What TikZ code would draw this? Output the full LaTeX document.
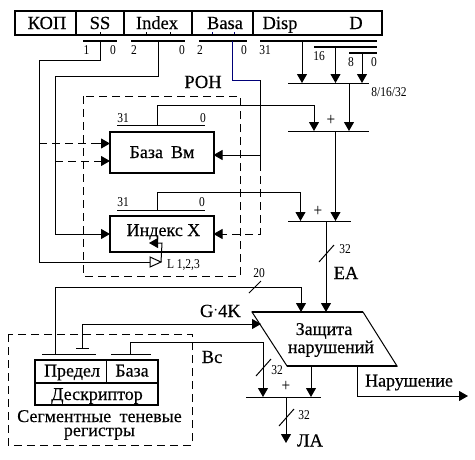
\documentclass[tikz,border=0pt]{standalone}
\usepackage{fontspec}
\setmainfont[FakeBold=0.35]{Liberation Serif}
\newfontfamily\narrowf[FakeStretch=0.85]{Liberation Serif}
\usetikzlibrary{arrows.meta}
\definecolor{navyline}{RGB}{0,0,120}
\tikzset{
  wire/.style={line width=1pt,line cap=butt},
  arr/.style={wire,-{Triangle[length=9pt,width=10pt]}},
  dashwire/.style={wire,dash pattern=on 8pt off 5pt},
  heavy/.style={line width=2pt,line cap=butt},
  thickbar/.style={line width=1.6pt},
  txt/.style={inner sep=0pt,outer sep=0pt,anchor=base,font=\fontsize{18}{18}\selectfont},
  big/.style={inner sep=0pt,outer sep=0pt,anchor=base,font=\fontsize{18.5}{18.5}\selectfont},
  plus/.style={inner sep=0pt,outer sep=0pt,font=\narrowf\fontsize{18}{18}\selectfont},
  small/.style={inner sep=0pt,outer sep=0pt,anchor=base,font=\narrowf\fontsize{13.5}{13.5}\selectfont},
  regbox/.style={draw,line width=2pt,inner sep=0pt,outer sep=0pt,fill=white,anchor=north west,minimum width=104pt},
}
\begin{document}
\begin{tikzpicture}[x=1pt,y=-1pt]
\useasboundingbox (0,0) rectangle (475,459);

% instruction word
\draw[heavy] (15,11) rectangle (382,34.5);
\foreach \xx in {76,124,192,253}{\draw[heavy] (\xx,11) -- (\xx,34.5);}
\node[big] (kop) at (47,29) {КОП};
\node[big] (ss) at (100,29) {SS};
\node[big] (index) at (157,29) {Index};
\node[big] (basa) at (225,29) {Basa};
\node[big] (disp) at (280,29) {Disp};
\node[big] (dd) at (356,29) {D};
\foreach \xx in {100,146,170}{\draw[wire] (\xx,32) -- (\xx,34);}
\foreach \xx in {212,234}{\draw[navyline,wire] (\xx,32) -- (\xx,34);}

% bit bars
\coordinate (ssL) at (83,41); \coordinate (ssR) at (117,41);
\coordinate (ixL) at (131,41); \coordinate (ixR) at (185,41);
\coordinate (baL) at (199,41); \coordinate (baR) at (247,41);
\coordinate (d1L) at (260,41); \coordinate (d1R) at (377,41);
\coordinate (d2L) at (314,47); \coordinate (d2R) at (377,47);
\coordinate (d3L) at (349,53); \coordinate (d3R) at (377,53);
\draw[thickbar] (ssL) -- (ssR);
\draw[thickbar] (ixL) -- (ixR);
\draw[thickbar] (baL) -- (baR);
\draw[thickbar] (d1L) -- (d1R);
\draw[thickbar] (d2L) -- (d2R);
\draw[thickbar] (d3L) -- (d3R);
\node[small] (n1) at (86.5,54) {1};
\node[small] (n2) at (113,54) {0};
\node[small] (n3) at (134,54) {2};
\node[small] (n4) at (182,54) {0};
\node[small] (n5) at (200,54) {2};
\node[small] (n6) at (244,54) {0};
\node[small] (n7) at (265,54) {31};
\node[small] (n8) at (319,60) {16};
\node[small] (n9) at (351,66) {8};
\node[small] (n10) at (374,66) {0};

% RON frame
\draw[dashwire] (83,96) rectangle (240,276);
\node[big] (ron) at (203,88) {РОН};

% registers
\node[regbox,minimum height=41pt] (base) at (110,132) {};
\node[txt] (baseT) at (162,158) {База\hspace{8pt}Вм};
\node[regbox,minimum height=36pt] (idx) at (110,216) {};
\node[txt] (idxT) at (163.5,236) {Индекс Х};

\coordinate (b31L) at (117,125); \coordinate (b31R) at (205,125);
\coordinate (i31L) at (117,210); \coordinate (i31R) at (205,210);
\draw[wire] (b31L) -- (b31R);
\draw[wire] (i31L) -- (i31R);
\node[small] (n11) at (123,122) {31};
\node[small] (n12) at (203,122) {0};
\node[small] (n13) at (123,206) {31};
\node[small] (n14) at (202,206) {0};

% adders
\coordinate (muxL) at (288,83); \coordinate (muxR) at (369,83);
\coordinate (s1L) at (288,131); \coordinate (s1R) at (369,131);
\coordinate (s2L) at (288,221); \coordinate (s2R) at (351,221);
\coordinate (s3L) at (246,397); \coordinate (s3R) at (321,397);
\draw[wire] (muxL) -- (muxR);
\draw[wire] (s1L) -- (s1R);
\draw[wire] (s2L) -- (s2R);
\draw[wire] (s3L) -- (s3R);
\node[plus] (p1) at (331,120) {+};
\node[plus] (p2) at (318,211) {+};
\node[plus] (p3) at (286,386) {+};
\node[small] (n15) at (389,96) {8/16/32};

% displacement wires
\draw[arr] (302,41) -- (302,83);
\draw[arr] (335.5,47) -- (335.5,83);
\draw[arr] (362,53) -- (362,83);
\draw[arr] (349,83) -- (349,131);
\draw[arr] (157,125) -- (157,105) -- (314,105) -- (314,131);
\draw[arr] (335.5,131) -- (335.5,221);
\draw[arr] (157,210) -- (157,192) -- (300.5,192) -- (300.5,221);

% SS wire
\coordinate (ssTap) at (39,143.5);
\coordinate (ixTap) at (55,161);
\draw[wire] (100,41) -- (100,60) -- (39,60) -- (39,262) -- (150,262);
\draw[dashwire] (ssTap) -- (100,143.5);
\draw[arr] (98,143.5) -- (110,143.5);
% Index wire
\draw[arr] (158,41) -- (158,76) -- (55,76) -- (55,234) -- (110,234);
\draw[dashwire] (ixTap) -- (100,161);
\draw[arr] (98,161) -- (110,161);
% Basa wire
\draw[navyline,wire] (232,41) -- (232,80) -- (260,80);
\draw[wire] (260,80) -- (260,163);
\draw[arr] (260,155) -- (213.5,155);
\draw[dashwire] (260,163) -- (260,234) -- (225,234);
\draw[arr] (225,234) -- (213.5,234);
% shifter
\coordinate (shA) at (150,257); \coordinate (shB) at (161,262); \coordinate (shC) at (150,267);
\draw[wire,fill=white] (shA) -- (shB) -- (shC) -- cycle;
\draw[arr] (shB) -- (162,243) -- (149,243);
\node[small,anchor=base west] (n16) at (167,268) {L 1,2,3};

% EA
\coordinate (prTop) at (326,312);
\draw[arr] (326,221) -- (prTop);
\draw[wire] (319,262) -- (334,245);
\node[small] (n17) at (345,253) {32};
\node[big] (ea) at (346,279) {EA};

% segment frame
\draw[dashwire] (8,334) rectangle (192,445);
\draw[heavy] (35,360) rectangle (158,405);
\draw[line width=1.5pt] (35,383) -- (158,383);
\draw[wire] (106.5,360) -- (106.5,383);
\node[txt] (pr) at (72,376.5) {Предел};
\node[txt] (bz) at (132,376.5) {База};
\node[txt] (ds) at (97,400) {Дескриптор};
\node[txt,anchor=center,align=center,font=\fontsize{18}{14}\selectfont] (sg) at (99.5,425) {Сегментные\hspace{4pt} теневые\\регистры};

\coordinate (barAL) at (42,354); \coordinate (barAR) at (96,354);
\coordinate (barBL) at (111,354); \coordinate (barBR) at (151,354);
\coordinate (barCL) at (76,348); \coordinate (barCR) at (89,348);
\draw[wire] (barAL) -- (barAR);
\draw[wire] (barBL) -- (barBR);
\draw[wire] (barCL) -- (barCR);

% protection unit
\coordinate (pA) at (252,312); \coordinate (pB) at (363,312);
\coordinate (pC) at (397,366); \coordinate (pD) at (287,366);
\draw[wire] (pA) -- (pB) -- (pC) -- (pD) -- cycle;
\draw[heavy] (pA) -- (pB);
\draw[heavy] (pD) -- (pC);
\node[txt] (z1) at (324,335) {Защита};
\node[txt] (z2) at (331,353) {нарушений};

% wires to protection
\draw[arr] (55,354) -- (55,287) -- (301,287) -- (301,312);
\draw[wire] (249,293) -- (261,281);
\node[small] (n18) at (259,277.5) {20};
\draw[arr] (82,348) -- (82,324) -- (261,324);
\node[big,anchor=base west] (g4k) at (200,317) {G\raisebox{3pt}{$\cdot$}4K};
\draw[arr] (130,354) -- (130,342) -- (263,342) -- (263,397);
\node[big] (bc) at (212,363) {Вс};
\draw[wire] (256,376) -- (271,359);
\node[small] (n19) at (277,374) {32};

\draw[arr] (311,366) -- (311,397);
\draw[arr] (286,397) -- (286,443);
\draw[wire] (279,426) -- (294,409);
\node[small] (n20) at (304,419) {32};
\node[big] (la) at (310,446.5) {ЛА};
\draw[arr] (357,366) -- (357,396) -- (468,396);
\node[txt] (nar) at (409,386.5) {Нарушение};
\end{tikzpicture}
\end{document}
